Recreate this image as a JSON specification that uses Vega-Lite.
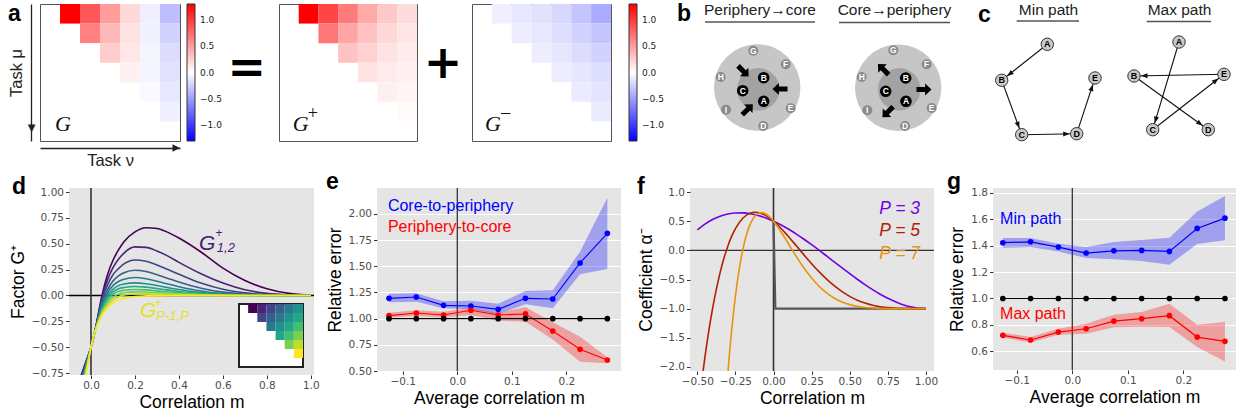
{
"$schema": "https://vega.github.io/schema/vega-lite/v6.json",
"padding": {"left": 7, "top": 1, "right": 0, "bottom": 0},
"config": {
 "view": {"stroke": null},
 "font": "Liberation Sans",
 "axis": {"labelFont": "DejaVu Sans", "labelFontSize": 10.5, "labelColor": "#4d4d4d", "labelOverlap": false, "tickColor": "#333333", "tickSize": 3.5, "labelPadding": 2, "domain": false, "gridColor": "#ffffff", "gridWidth": 1.2, "titleFont": "Liberation Sans", "titleFontSize": 17.5, "titleFontWeight": "normal", "titleColor": "#000000", "titlePadding": 4},
 "axisX": {"titlePadding": 2},
 "axisY": {"titlePadding": 4}
},
"datasets": {
 "G": [{"r":0,"c":1,"v":1.3},{"r":0,"c":2,"v":0.85},{"r":0,"c":3,"v":0.5},{"r":0,"c":4,"v":0.2},{"r":0,"c":5,"v":-0.08},{"r":0,"c":6,"v":-0.33},{"r":1,"c":2,"v":0.64},{"r":1,"c":3,"v":0.36},{"r":1,"c":4,"v":0.15},{"r":1,"c":5,"v":-0.07},{"r":1,"c":6,"v":-0.23},{"r":2,"c":3,"v":0.26},{"r":2,"c":4,"v":0.12},{"r":2,"c":5,"v":-0.05},{"r":2,"c":6,"v":-0.18},{"r":3,"c":4,"v":0.07},{"r":3,"c":5,"v":-0.05},{"r":3,"c":6,"v":-0.15},{"r":4,"c":5,"v":-0.03},{"r":4,"c":6,"v":-0.12},{"r":5,"c":6,"v":-0.08}],
 "Gp": [{"r":0,"c":1,"v":1.3},{"r":0,"c":2,"v":0.95},{"r":0,"c":3,"v":0.68},{"r":0,"c":4,"v":0.44},{"r":0,"c":5,"v":0.28},{"r":0,"c":6,"v":0.18},{"r":1,"c":2,"v":0.7},{"r":1,"c":3,"v":0.46},{"r":1,"c":4,"v":0.31},{"r":1,"c":5,"v":0.2},{"r":1,"c":6,"v":0.13},{"r":2,"c":3,"v":0.31},{"r":2,"c":4,"v":0.23},{"r":2,"c":5,"v":0.15},{"r":2,"c":6,"v":0.1},{"r":3,"c":4,"v":0.15},{"r":3,"c":5,"v":0.1},{"r":3,"c":6,"v":0.07},{"r":4,"c":5,"v":0.075},{"r":4,"c":6,"v":0.05},{"r":5,"c":6,"v":0.02}],
 "Gm": [{"r":0,"c":1,"v":-0.08},{"r":0,"c":2,"v":-0.12},{"r":0,"c":3,"v":-0.15},{"r":0,"c":4,"v":-0.2},{"r":0,"c":5,"v":-0.3},{"r":0,"c":6,"v":-0.43},{"r":1,"c":2,"v":-0.09},{"r":1,"c":3,"v":-0.12},{"r":1,"c":4,"v":-0.17},{"r":1,"c":5,"v":-0.23},{"r":1,"c":6,"v":-0.3},{"r":2,"c":3,"v":-0.09},{"r":2,"c":4,"v":-0.13},{"r":2,"c":5,"v":-0.18},{"r":2,"c":6,"v":-0.23},{"r":3,"c":4,"v":-0.09},{"r":3,"c":5,"v":-0.13},{"r":3,"c":6,"v":-0.17},{"r":4,"c":5,"v":-0.1},{"r":4,"c":6,"v":-0.14},{"r":5,"c":6,"v":-0.1}],
 "inset": [{"r":0,"c":1,"s":1},{"r":0,"c":2,"s":2},{"r":0,"c":3,"s":3},{"r":0,"c":4,"s":4},{"r":0,"c":5,"s":5},{"r":0,"c":6,"s":6},{"r":1,"c":2,"s":3},{"r":1,"c":3,"s":4},{"r":1,"c":4,"s":5},{"r":1,"c":5,"s":6},{"r":1,"c":6,"s":7},{"r":2,"c":3,"s":5},{"r":2,"c":4,"s":6},{"r":2,"c":5,"s":7},{"r":2,"c":6,"s":8},{"r":3,"c":4,"s":7},{"r":3,"c":5,"s":8},{"r":3,"c":6,"s":9},{"r":4,"c":5,"s":9},{"r":4,"c":6,"s":10},{"r":5,"c":6,"s":11}],
 "dCurves": [
  {"m":-0.045,"c1":-0.775,"c2":-0.788,"c3":-0.804,"c4":-0.821,"c5":-0.841,"c6":-0.863,"c7":-0.888,"c8":-0.917,"c9":-0.95,"c10":-0.989,"c11":-1.036},
  {"m":-0.03,"c1":-0.683,"c2":-0.692,"c3":-0.703,"c4":-0.714,"c5":-0.727,"c6":-0.742,"c7":-0.759,"c8":-0.778,"c9":-0.8,"c10":-0.826,"c11":-0.857},
  {"m":-0.015,"c1":-0.592,"c2":-0.596,"c3":-0.601,"c4":-0.607,"c5":-0.614,"c6":-0.621,"c7":-0.629,"c8":-0.639,"c9":-0.65,"c10":-0.663,"c11":-0.679},
  {"m":0,"c1":-0.5,"c2":-0.5,"c3":-0.5,"c4":-0.5,"c5":-0.5,"c6":-0.5,"c7":-0.5,"c8":-0.5,"c9":-0.5,"c10":-0.5,"c11":-0.5},
  {"m":0.01,"c1":-0.42,"c2":-0.42,"c3":-0.42,"c4":-0.42,"c5":-0.42,"c6":-0.415,"c7":-0.415,"c8":-0.414,"c9":-0.413,"c10":-0.412,"c11":-0.412},
  {"m":0.025,"c1":-0.27,"c2":-0.275,"c3":-0.28,"c4":-0.285,"c5":-0.29,"c6":-0.295,"c7":-0.298,"c8":-0.3,"c9":-0.303,"c10":-0.306,"c11":-0.309},
  {"m":0.05,"c1":0.0,"c2":-0.02,"c3":-0.045,"c4":-0.07,"c5":-0.09,"c6":-0.11,"c7":-0.13,"c8":-0.145,"c9":-0.16,"c10":-0.175,"c11":-0.19},
  {"m":0.075,"c1":0.2,"c2":0.15,"c3":0.1,"c4":0.055,"c5":0.025,"c6":0.0,"c7":-0.025,"c8":-0.05,"c9":-0.072,"c10":-0.095,"c11":-0.118},
  {"m":0.1,"c1":0.34,"c2":0.27,"c3":0.2,"c4":0.14,"c5":0.095,"c6":0.06,"c7":0.035,"c8":0.012,"c9":-0.015,"c10":-0.045,"c11":-0.073},
  {"m":0.125,"c1":0.44,"c2":0.35,"c3":0.26,"c4":0.19,"c5":0.135,"c6":0.095,"c7":0.064,"c8":0.04,"c9":0.015,"c10":-0.012,"c11":-0.045},
  {"m":0.15,"c1":0.52,"c2":0.41,"c3":0.305,"c4":0.22,"c5":0.157,"c6":0.11,"c7":0.077,"c8":0.05,"c9":0.027,"c10":0.004,"c11":-0.028},
  {"m":0.2,"c1":0.615,"c2":0.47,"c3":0.343,"c4":0.244,"c5":0.173,"c6":0.122,"c7":0.087,"c8":0.058,"c9":0.035,"c10":0.014,"c11":-0.01},
  {"m":0.25,"c1":0.655,"c2":0.465,"c3":0.33,"c4":0.232,"c5":0.162,"c6":0.114,"c7":0.081,"c8":0.054,"c9":0.033,"c10":0.015,"c11":-0.004},
  {"m":0.3,"c1":0.648,"c2":0.43,"c3":0.295,"c4":0.2,"c5":0.138,"c6":0.096,"c7":0.067,"c8":0.044,"c9":0.027,"c10":0.012,"c11":-0.0015},
  {"m":0.35,"c1":0.61,"c2":0.38,"c3":0.25,"c4":0.165,"c5":0.11,"c6":0.076,"c7":0.052,"c8":0.034,"c9":0.02,"c10":0.009,"c11":0},
  {"m":0.4,"c1":0.555,"c2":0.32,"c3":0.205,"c4":0.13,"c5":0.085,"c6":0.057,"c7":0.039,"c8":0.025,"c9":0.015,"c10":0.007,"c11":0},
  {"m":0.5,"c1":0.42,"c2":0.21,"c3":0.12,"c4":0.07,"c5":0.043,"c6":0.028,"c7":0.018,"c8":0.011,"c9":0.006,"c10":0.003,"c11":0},
  {"m":0.6,"c1":0.265,"c2":0.12,"c3":0.06,"c4":0.032,"c5":0.018,"c6":0.011,"c7":0.007,"c8":0.004,"c9":0.002,"c10":0.001,"c11":0},
  {"m":0.7,"c1":0.145,"c2":0.055,"c3":0.025,"c4":0.012,"c5":0.006,"c6":0.004,"c7":0.002,"c8":0.001,"c9":0,"c10":0,"c11":0},
  {"m":0.8,"c1":0.065,"c2":0.02,"c3":0.008,"c4":0.004,"c5":0.002,"c6":0.001,"c7":0,"c8":0,"c9":0,"c10":0,"c11":0},
  {"m":0.9,"c1":0.02,"c2":0.005,"c3":0.002,"c4":0.001,"c5":0,"c6":0,"c7":0,"c8":0,"c9":0,"c10":0,"c11":0},
  {"m":1.0,"c1":0.002,"c2":0,"c3":0,"c4":0,"c5":0,"c6":0,"c7":0,"c8":0,"c9":0,"c10":0,"c11":0}
 ],
 "e": [
  {"x":-0.125,"s":"c2p","y":1.194,"lo":1.156,"hi":1.239},{"x":-0.075,"s":"c2p","y":1.207,"lo":1.162,"hi":1.242},{"x":-0.025,"s":"c2p","y":1.127,"lo":1.099,"hi":1.166},{"x":0.025,"s":"c2p","y":1.121,"lo":1.089,"hi":1.172},{"x":0.075,"s":"c2p","y":1.089,"lo":1.041,"hi":1.143},{"x":0.125,"s":"c2p","y":1.194,"lo":1.137,"hi":1.264},{"x":0.175,"s":"c2p","y":1.188,"lo":1.099,"hi":1.271},{"x":0.225,"s":"c2p","y":1.532,"lo":1.424,"hi":1.64},{"x":0.275,"s":"c2p","y":1.815,"lo":1.475,"hi":2.156},
  {"x":-0.125,"s":"p2c","y":1.029,"lo":1.01,"hi":1.057},{"x":-0.075,"s":"p2c","y":1.054,"lo":1.025,"hi":1.08},{"x":-0.025,"s":"p2c","y":1.035,"lo":1.01,"hi":1.067},{"x":0.025,"s":"p2c","y":1.08,"lo":1.035,"hi":1.105},{"x":0.075,"s":"p2c","y":1.035,"lo":0.981,"hi":1.051},{"x":0.125,"s":"p2c","y":1.045,"lo":0.971,"hi":1.111},{"x":0.175,"s":"p2c","y":0.882,"lo":0.8,"hi":0.965},{"x":0.225,"s":"p2c","y":0.707,"lo":0.589,"hi":0.828},{"x":0.275,"s":"p2c","y":0.605,"lo":0.573,"hi":0.631},
  {"x":-0.125,"s":"base","y":1.0},{"x":-0.075,"s":"base","y":1.0},{"x":-0.025,"s":"base","y":1.0},{"x":0.025,"s":"base","y":1.0},{"x":0.075,"s":"base","y":1.0},{"x":0.125,"s":"base","y":1.0},{"x":0.175,"s":"base","y":1.0},{"x":0.225,"s":"base","y":1.0},{"x":0.275,"s":"base","y":1.0}
 ],
 "g": [
  {"x":-0.125,"s":"min","y":1.422,"lo":1.384,"hi":1.457},{"x":-0.075,"s":"min","y":1.429,"lo":1.389,"hi":1.457},{"x":-0.025,"s":"min","y":1.389,"lo":1.356,"hi":1.414},{"x":0.025,"s":"min","y":1.344,"lo":1.306,"hi":1.389},{"x":0.075,"s":"min","y":1.361,"lo":1.296,"hi":1.427},{"x":0.125,"s":"min","y":1.364,"lo":1.283,"hi":1.442},{"x":0.175,"s":"min","y":1.356,"lo":1.256,"hi":1.46},{"x":0.225,"s":"min","y":1.53,"lo":1.412,"hi":1.659},{"x":0.275,"s":"min","y":1.608,"lo":1.44,"hi":1.775},
  {"x":-0.125,"s":"max","y":0.721,"lo":0.703,"hi":0.741},{"x":-0.075,"s":"max","y":0.686,"lo":0.668,"hi":0.708},{"x":-0.025,"s":"max","y":0.746,"lo":0.726,"hi":0.771},{"x":0.025,"s":"max","y":0.771,"lo":0.734,"hi":0.809},{"x":0.075,"s":"max","y":0.829,"lo":0.782,"hi":0.877},{"x":0.125,"s":"max","y":0.847,"lo":0.787,"hi":0.898},{"x":0.175,"s":"max","y":0.87,"lo":0.784,"hi":0.961},{"x":0.225,"s":"max","y":0.708,"lo":0.633,"hi":0.802},{"x":0.275,"s":"max","y":0.676,"lo":0.524,"hi":0.822},
  {"x":-0.125,"s":"base","y":1.0},{"x":-0.075,"s":"base","y":1.0},{"x":-0.025,"s":"base","y":1.0},{"x":0.025,"s":"base","y":1.0},{"x":0.075,"s":"base","y":1.0},{"x":0.125,"s":"base","y":1.0},{"x":0.175,"s":"base","y":1.0},{"x":0.225,"s":"base","y":1.0},{"x":0.275,"s":"base","y":1.0}
 ],
 "fCurves": [
  {"m":-0.5,"p3":0.35},{"m":-0.47,"p5":-2.226},{"m":-0.45,"p3":0.451,"p5":-1.829},{"m":-0.44,"p5":-1.645},{"m":-0.425,"p5":-1.387},{"m":-0.4,"p3":0.529,"p5":-1.0},{"m":-0.375,"p5":-0.665},{"m":-0.35,"p3":0.586,"p5":-0.377},{"m":-0.325,"p5":-0.133},{"m":-0.3,"p3":0.622,"p5":0.071,"p7":-2.122},{"m":-0.29,"p7":-1.805},{"m":-0.275,"p5":0.239,"p7":-1.379},{"m":-0.26,"p7":-1.006},{"m":-0.25,"p3":0.641,"p5":0.373,"p7":-0.785},{"m":-0.225,"p7":-0.322},{"m":-0.2,"p3":0.642,"p5":0.555,"p7":0.03},{"m":-0.175,"p7":0.288},{"m":-0.15,"p3":0.627,"p5":0.64,"p7":0.466},{"m":-0.125,"p5":0.652,"p7":0.578},{"m":-0.1,"p3":0.597,"p5":0.647,"p7":0.634},{"m":-0.075,"p5":0.628,"p7":0.646},{"m":-0.05,"p3":0.555,"p5":0.595,"p7":0.623},{"m":-0.025,"p5":0.552,"p7":0.572},{"m":0,"p3":0.5,"p5":0.5,"p7":0.5},{"m":0.025,"p5":0.44,"p7":0.413},{"m":0.05,"p3":0.435,"p5":0.374,"p7":0.315},{"m":0.075,"p5":0.304,"p7":0.211},{"m":0.1,"p3":0.361,"p5":0.23,"p7":0.104},{"m":0.15,"p3":0.279,"p5":0.077,"p7":-0.108},{"m":0.2,"p3":0.19,"p5":-0.078,"p7":-0.304},{"m":0.25,"p3":0.097,"p5":-0.229,"p7":-0.476},{"m":0.3,"p3":0.0,"p5":-0.37,"p7":-0.62},{"m":0.35,"p3":-0.1,"p5":-0.498,"p7":-0.734},{"m":0.4,"p3":-0.201,"p5":-0.611,"p7":-0.822},{"m":0.45,"p3":-0.301,"p5":-0.708,"p7":-0.887},{"m":0.5,"p3":-0.4,"p5":-0.789,"p7":-0.931},{"m":0.55,"p3":-0.496,"p5":-0.854,"p7":-0.961},{"m":0.6,"p3":-0.587,"p5":-0.904,"p7":-0.98},{"m":0.65,"p3":-0.673,"p5":-0.941,"p7":-0.99},{"m":0.7,"p3":-0.752,"p5":-0.967,"p7":-0.996},{"m":0.75,"p3":-0.822,"p5":-0.983,"p7":-0.999},{"m":0.8,"p3":-0.882,"p5":-0.993,"p7":-1.0},{"m":0.85,"p3":-0.932,"p5":-0.998,"p7":-1.0},{"m":0.9,"p3":-0.969,"p5":-1.0,"p7":-1.0},{"m":0.95,"p3":-0.992,"p5":-1.0,"p7":-1.0},{"m":1.0,"p3":-1.0,"p5":-1.0,"p7":-1.0}
 ],
 "fStep": [{"m":0,"a":0.5},{"m":0.012,"a":-1.0},{"m":1.0,"a":-1.0}],
 "bRings": [{"x":80.2,"y":83.5,"ring":"outer"},{"x":81.3,"y":85.3,"ring":"inner"},{"x":221.2,"y":83.8,"ring":"outer"},{"x":222.2,"y":85.3,"ring":"inner"}],
 "bNodes": [{"x":76.3,"y":46.7,"id":"G","kind":"p"},{"x":108.7,"y":60.3,"id":"F","kind":"p"},{"x":43.7,"y":73,"id":"H","kind":"p"},{"x":113.7,"y":104.3,"id":"E","kind":"p"},{"x":49,"y":105.7,"id":"I","kind":"p"},{"x":86.3,"y":122,"id":"D","kind":"p"},{"x":86.7,"y":73.7,"id":"B","kind":"c"},{"x":65.7,"y":86.7,"id":"C","kind":"c"},{"x":86.7,"y":97.3,"id":"A","kind":"c"},{"x":216.3,"y":46.3,"id":"G","kind":"p"},{"x":249.7,"y":60.3,"id":"F","kind":"p"},{"x":184.7,"y":73,"id":"H","kind":"p"},{"x":254.7,"y":104,"id":"E","kind":"p"},{"x":190.3,"y":106.3,"id":"I","kind":"p"},{"x":228,"y":122,"id":"D","kind":"p"},{"x":228.7,"y":74,"id":"B","kind":"c"},{"x":208.7,"y":87.3,"id":"C","kind":"c"},{"x":229,"y":97.3,"id":"A","kind":"c"}],
 "bArrows": [{"x":66.3,"y":67.2,"a":135},{"x":103,"y":85,"a":270},{"x":70.5,"y":105.5,"a":45},{"x":206.3,"y":65.3,"a":315},{"x":247,"y":85.5,"a":90},{"x":210.8,"y":108,"a":225}],
 "cNodes": [{"key":"minA","id":"A","x":69.3,"y":40.3},{"key":"minB","id":"B","x":23.7,"y":76.3},{"key":"minC","id":"C","x":43.7,"y":130.7},{"key":"minD","id":"D","x":98.7,"y":129.7},{"key":"minE","id":"E","x":117,"y":74},{"key":"maxA","id":"A","x":201,"y":38},{"key":"maxB","id":"B","x":156,"y":72},{"key":"maxE","id":"E","x":246,"y":70.3},{"key":"maxC","id":"C","x":174.7,"y":125.7},{"key":"maxD","id":"D","x":230.3,"y":125.7}],
 "cEdges": [{"src":"minA","dst":"minB","a":51.7},{"src":"minB","dst":"minC","a":339.8},{"src":"minC","dst":"minD","a":269},{"src":"minD","dst":"minE","a":198.2},{"src":"maxA","dst":"maxC","a":16.7},{"src":"maxC","dst":"maxE","a":232.2},{"src":"maxE","dst":"maxB","a":88.9},{"src":"maxB","dst":"maxD","a":305.9}]
},
"bounds": "flush",
"spacing": 184,
"resolve": {"scale": {"color": "independent", "size": "independent"}, "legend": {"color": "independent"}},
"vconcat": [
{
"bounds": "flush",
"spacing": 0,
"resolve": {"scale": {"color": "independent", "size": "independent"}, "legend": {"color": "independent"}},
"hconcat": [
 {
  "width": 140, "height": 137,
  "view": {"stroke": "#555555", "strokeWidth": 1},
  "layer": [
   {"data": {"name": "G"}, "mark": {"type": "rect"},
    "encoding": {
     "x": {"field": "c", "type": "ordinal", "scale": {"domain": [0,1,2,3,4,5,6], "paddingInner": 0, "paddingOuter": 0},
      "axis": {"title": "Task ν", "orient": "bottom", "offset": 7, "domain": true, "domainColor": "#222222", "domainWidth": 1.3, "ticks": false, "labels": false, "grid": false, "titleFontSize": 16.5, "titlePadding": 4, "titleColor": "#222222"}},
     "y": {"field": "r", "type": "ordinal", "scale": {"domain": [0,1,2,3,4,5,6], "paddingInner": 0, "paddingOuter": 0},
      "axis": {"title": "Task μ", "orient": "left", "offset": 9, "domain": true, "domainColor": "#222222", "domainWidth": 1.3, "ticks": false, "tickSize": 0, "grid": false, "bandPosition": 1, "labelExpr": "datum.value == 6 ? '▼' : ''", "labelAlign": "center", "labelBaseline": "alphabetic", "labelPadding": 0, "labelAngle": 0, "labelFont": "DejaVu Sans", "labelFontSize": 10, "labelColor": "#222222", "labelOverlap": false, "labelBound": false, "titleFontSize": 16.5, "titlePadding": 3, "titleColor": "#222222"}},
     "color": {"field": "v", "type": "quantitative", "scale": {"domain": [-1.3, 0, 1.3], "range": ["#0000ff", "#ffffff", "#ff0000"], "interpolate": "rgb"},
      "legend": {"orient": "none", "legendX": 147, "legendY": 0, "direction": "vertical", "gradientLength": 137, "gradientThickness": 8, "title": null, "values": [-1, -0.5, 0, 0.5, 1], "format": ".1f", "labelFont": "DejaVu Sans", "labelFontSize": 9, "labelColor": "#222222", "labelOffset": 5, "gradientStrokeColor": "#333333", "gradientStrokeWidth": 1, "padding": 0}}
    }},
   {"data": {"values": [{}]}, "mark": {"type": "point", "shape": "M0,0.7L-0.75,0.33L-0.75,1.07Z", "filled": true, "color": "#222222", "opacity": 1, "size": 400, "strokeWidth": 0},
    "encoding": {"x": {"datum": 6, "type": "ordinal", "bandPosition": 1}, "y": {"datum": 6, "type": "ordinal", "bandPosition": 1}}},
   {"data": {"values": [{}]}, "mark": {"type": "text", "text": "G", "font": "Liberation Serif", "fontStyle": "italic", "fontSize": 22, "align": "left", "baseline": "alphabetic", "dx": 5, "dy": 0, "color": "#111111"},
    "encoding": {"x": {"datum": 0, "type": "ordinal"}, "y": {"datum": 6, "type": "ordinal"}}},
   {"data": {"values": [{}]}, "mark": {"type": "text", "text": "a", "fontWeight": "bold", "fontSize": 23, "align": "left", "baseline": "alphabetic", "dx": -42, "dy": 7, "color": "#000000"},
    "encoding": {"x": {"datum": 0, "type": "ordinal"}, "y": {"datum": 0, "type": "ordinal"}}}
  ]
 },
 {"width": 99, "height": 1, "data": {"values": [{}]}, "mark": {"type": "point", "opacity": 0}, "encoding": {}},
 {
  "width": 138, "height": 137,
  "view": {"stroke": "#555555", "strokeWidth": 1},
  "layer": [
   {"data": {"name": "Gp"}, "mark": {"type": "rect"},
    "encoding": {
     "x": {"field": "c", "type": "ordinal", "scale": {"domain": [0,1,2,3,4,5,6], "paddingInner": 0, "paddingOuter": 0}, "axis": null},
     "y": {"field": "r", "type": "ordinal", "scale": {"domain": [0,1,2,3,4,5,6], "paddingInner": 0, "paddingOuter": 0}, "axis": null},
     "color": {"field": "v", "type": "quantitative", "scale": {"domain": [-1.3, 0, 1.3], "range": ["#0000ff", "#ffffff", "#ff0000"], "interpolate": "rgb"}, "legend": null}
    }},
   {"data": {"values": [{}]}, "mark": {"type": "text", "text": "G", "font": "Liberation Serif", "fontStyle": "italic", "fontSize": 22, "align": "left", "baseline": "alphabetic", "dx": 4, "dy": 0, "color": "#111111"},
    "encoding": {"x": {"datum": 0, "type": "ordinal"}, "y": {"datum": 6, "type": "ordinal"}}},
   {"data": {"values": [{}]}, "mark": {"type": "text", "text": "+", "font": "Liberation Serif", "fontSize": 18, "align": "left", "baseline": "alphabetic", "dx": 19, "dy": -12, "color": "#111111"},
    "encoding": {"x": {"datum": 0, "type": "ordinal"}, "y": {"datum": 6, "type": "ordinal"}}},
   {"data": {"values": [{}]}, "mark": {"type": "text", "text": "=", "font": "DejaVu Sans", "fontWeight": "bold", "fontSize": 46, "align": "center", "baseline": "middle", "dx": -42, "dy": -4, "color": "#000000"},
    "encoding": {"x": {"datum": 0, "type": "ordinal"}, "y": {"datum": 3, "type": "ordinal"}}}
  ]
 },
 {"width": 55, "height": 1, "data": {"values": [{}]}, "mark": {"type": "point", "opacity": 0}, "encoding": {}},
 {
  "width": 139, "height": 137,
  "view": {"stroke": "#555555", "strokeWidth": 1},
  "layer": [
   {"data": {"name": "Gm"}, "mark": {"type": "rect"},
    "encoding": {
     "x": {"field": "c", "type": "ordinal", "scale": {"domain": [0,1,2,3,4,5,6], "paddingInner": 0, "paddingOuter": 0}, "axis": null},
     "y": {"field": "r", "type": "ordinal", "scale": {"domain": [0,1,2,3,4,5,6], "paddingInner": 0, "paddingOuter": 0}, "axis": null},
     "color": {"field": "v", "type": "quantitative", "scale": {"domain": [-1.3, 0, 1.3], "range": ["#0000ff", "#ffffff", "#ff0000"], "interpolate": "rgb"},
      "legend": {"orient": "none", "legendX": 157, "legendY": 0, "direction": "vertical", "gradientLength": 137, "gradientThickness": 8, "title": null, "values": [-1, -0.5, 0, 0.5, 1], "format": ".1f", "labelFont": "DejaVu Sans", "labelFontSize": 9, "labelColor": "#222222", "labelOffset": 5, "gradientStrokeColor": "#333333", "gradientStrokeWidth": 1, "padding": 0}}
    }},
   {"data": {"values": [{}]}, "mark": {"type": "text", "text": "G", "font": "Liberation Serif", "fontStyle": "italic", "fontSize": 22, "align": "left", "baseline": "alphabetic", "dx": 3, "dy": 0, "color": "#111111"},
    "encoding": {"x": {"datum": 0, "type": "ordinal"}, "y": {"datum": 6, "type": "ordinal"}}},
   {"data": {"values": [{}]}, "mark": {"type": "text", "text": "−", "font": "Liberation Serif", "fontSize": 20, "align": "left", "baseline": "alphabetic", "dx": 18, "dy": -11, "color": "#111111"},
    "encoding": {"x": {"datum": 0, "type": "ordinal"}, "y": {"datum": 6, "type": "ordinal"}}},
   {"data": {"values": [{}]}, "mark": {"type": "text", "text": "+", "font": "DejaVu Sans", "fontWeight": "bold", "fontSize": 46, "align": "center", "baseline": "middle", "dx": -39, "dy": -9, "color": "#000000"},
    "encoding": {"x": {"datum": 0, "type": "ordinal"}, "y": {"datum": 3, "type": "ordinal"}}}
  ]
 },
 {"width": 66, "height": 1, "data": {"values": [{}]}, "mark": {"type": "point", "opacity": 0}, "encoding": {}},
 {
  "width": 293, "height": 137,
  "layer": [
   {"data": {"name": "bRings"}, "transform": [{"filter": "datum.ring == 'outer'"}], "mark": {"type": "point", "shape": "circle", "filled": true, "color": "#c6c6c6", "opacity": 1, "size": 7480, "strokeWidth": 0},
    "encoding": {"x": {"field": "x", "type": "quantitative", "scale": {"domain": [0, 293], "nice": false, "zero": false}, "axis": null},
                 "y": {"field": "y", "type": "quantitative", "scale": {"domain": [0, 137], "nice": false, "zero": false, "reverse": true}, "axis": null}}},
   {"data": {"name": "bRings"}, "transform": [{"filter": "datum.ring == 'inner'"}], "mark": {"type": "point", "shape": "circle", "filled": true, "color": "#a2a2a2", "opacity": 1, "size": 1810, "strokeWidth": 0},
    "encoding": {"x": {"field": "x", "type": "quantitative"}, "y": {"field": "y", "type": "quantitative"}}},
   {"data": {"name": "bNodes"}, "transform": [{"filter": "datum.kind == 'p'"}], "mark": {"type": "point", "shape": "circle", "filled": true, "color": "#8a8a8a", "opacity": 1, "size": 100, "strokeWidth": 0},
    "encoding": {"x": {"field": "x", "type": "quantitative"}, "y": {"field": "y", "type": "quantitative"}}},
   {"data": {"name": "bNodes"}, "transform": [{"filter": "datum.kind == 'c'"}], "mark": {"type": "point", "shape": "circle", "filled": true, "color": "#000000", "opacity": 1, "size": 135, "strokeWidth": 0},
    "encoding": {"x": {"field": "x", "type": "quantitative"}, "y": {"field": "y", "type": "quantitative"}}},
   {"data": {"name": "bNodes"}, "mark": {"type": "text", "fontWeight": "bold", "fontSize": 8.5, "align": "center", "baseline": "middle", "color": "#ffffff"},
    "encoding": {"x": {"field": "x", "type": "quantitative"}, "y": {"field": "y", "type": "quantitative"}, "text": {"field": "id"}}},
   {"data": {"name": "bArrows"}, "mark": {"type": "point", "shape": "M0,-1L0.8,-0.15L0.34,-0.15L0.34,1L-0.34,1L-0.34,-0.15L-0.8,-0.15Z", "filled": true, "color": "#000000", "opacity": 1, "size": 225, "strokeWidth": 0},
    "encoding": {"x": {"field": "x", "type": "quantitative"}, "y": {"field": "y", "type": "quantitative"}, "angle": {"field": "a", "type": "quantitative", "scale": null}}},
   {"data": {"values": [{}]}, "mark": {"type": "text", "text": "Periphery→core", "fontSize": 15.5, "align": "center", "baseline": "alphabetic", "color": "#222222"},
    "encoding": {"x": {"datum": 83}, "y": {"datum": 11}}},
   {"data": {"values": [{}]}, "mark": {"type": "text", "text": "Core→periphery", "fontSize": 15.5, "align": "center", "baseline": "alphabetic", "color": "#222222"},
    "encoding": {"x": {"datum": 217.5}, "y": {"datum": 11}}},
   {"data": {"values": [{}]}, "mark": {"type": "rule", "color": "#555555", "strokeWidth": 1.5},
    "encoding": {"x": {"datum": 28}, "x2": {"datum": 138}, "y": {"datum": 18}}},
   {"data": {"values": [{}]}, "mark": {"type": "rule", "color": "#555555", "strokeWidth": 1.5},
    "encoding": {"x": {"datum": 162}, "x2": {"datum": 273}, "y": {"datum": 18.5}}},
   {"data": {"values": [{}]}, "mark": {"type": "text", "text": "b", "fontWeight": "bold", "fontSize": 23, "align": "left", "baseline": "alphabetic", "color": "#000000"},
    "encoding": {"x": {"datum": 0}, "y": {"datum": 17}}}
  ]
 },
 {"width": 8, "height": 1, "data": {"values": [{}]}, "mark": {"type": "point", "opacity": 0}, "encoding": {}},
 {
  "width": 261, "height": 137,
  "layer": [
   {"data": {"name": "cEdges"},
    "transform": [
     {"lookup": "src", "from": {"data": {"name": "cNodes"}, "key": "key", "fields": ["x", "y"]}, "as": ["sx", "sy"]},
     {"lookup": "dst", "from": {"data": {"name": "cNodes"}, "key": "key", "fields": ["x", "y"]}, "as": ["tx", "ty"]}
    ],
    "mark": {"type": "rule", "color": "#111111", "strokeWidth": 1.1},
    "encoding": {"x": {"field": "sx", "type": "quantitative", "scale": {"domain": [0, 261], "nice": false, "zero": false}, "axis": null},
                 "y": {"field": "sy", "type": "quantitative", "scale": {"domain": [0, 137], "nice": false, "zero": false, "reverse": true}, "axis": null},
                 "x2": {"field": "tx"}, "y2": {"field": "ty"}}},
   {"data": {"name": "cNodes"}, "mark": {"type": "point", "shape": "circle", "filled": true, "fill": "#c8c8c8", "stroke": "#333333", "strokeWidth": 1, "opacity": 1, "size": 154},
    "encoding": {"x": {"field": "x", "type": "quantitative"}, "y": {"field": "y", "type": "quantitative"}}},
   {"data": {"name": "cEdges"},
    "transform": [
     {"lookup": "dst", "from": {"data": {"name": "cNodes"}, "key": "key", "fields": ["x", "y"]}, "as": ["tx", "ty"]}
    ],
    "mark": {"type": "point", "shape": "M0,-0.47L0.17,-0.9L-0.17,-0.9Z", "filled": true, "color": "#111111", "opacity": 1, "size": 900, "strokeWidth": 0},
    "encoding": {"x": {"field": "tx", "type": "quantitative"}, "y": {"field": "ty", "type": "quantitative"}, "angle": {"field": "a", "type": "quantitative", "scale": null}}},
   {"data": {"name": "cNodes"}, "mark": {"type": "text", "fontWeight": "bold", "fontSize": 9, "align": "center", "baseline": "middle", "color": "#000000"},
    "encoding": {"x": {"field": "x", "type": "quantitative"}, "y": {"field": "y", "type": "quantitative"}, "text": {"field": "id"}}},
   {"data": {"values": [{}]}, "mark": {"type": "text", "text": "Min path", "fontSize": 15.5, "align": "center", "baseline": "alphabetic", "color": "#222222"},
    "encoding": {"x": {"datum": 70.5}, "y": {"datum": 10.5}}},
   {"data": {"values": [{}]}, "mark": {"type": "text", "text": "Max path", "fontSize": 15.5, "align": "center", "baseline": "alphabetic", "color": "#222222"},
    "encoding": {"x": {"datum": 201.5}, "y": {"datum": 10.5}}},
   {"data": {"values": [{}]}, "mark": {"type": "rule", "color": "#555555", "strokeWidth": 1.5},
    "encoding": {"x": {"datum": 38.7}, "x2": {"datum": 101}, "y": {"datum": 17}}},
   {"data": {"values": [{}]}, "mark": {"type": "rule", "color": "#555555", "strokeWidth": 1.5},
    "encoding": {"x": {"datum": 168.7}, "x2": {"datum": 233}, "y": {"datum": 17.5}}},
   {"data": {"values": [{}]}, "mark": {"type": "text", "text": "c", "fontWeight": "bold", "fontSize": 23, "align": "left", "baseline": "alphabetic", "color": "#000000"},
    "encoding": {"x": {"datum": 0}, "y": {"datum": 18}}}
  ]
 }
]
},
{
"bounds": "flush",
"spacing": 0,
"resolve": {"scale": {"color": "independent", "size": "independent"}, "legend": {"color": "independent"}},
"hconcat": [
 {"width": 29, "height": 1, "data": {"values": [{}]}, "mark": {"type": "point", "opacity": 0}, "encoding": {}},
 {
  "width": 245, "height": 187,
  "view": {"fill": "#e5e5e5", "stroke": null},
  "resolve": {"scale": {"x": "independent", "y": "independent", "color": "independent"}},
  "layer": [
   {"layer": [
     {"data": {"values": [{}]}, "mark": {"type": "rule", "color": "#000000", "strokeWidth": 1.4}, "encoding": {"y": {"datum": 0, "type": "quantitative"}}},
     {"data": {"values": [{}]}, "mark": {"type": "rule", "color": "#333333", "strokeWidth": 1.6}, "encoding": {"x": {"datum": 0, "type": "quantitative"}}},
     {"data": {"name": "dCurves"}, "transform": [{"fold": ["c1","c2","c3","c4","c5","c6","c7","c8","c9","c10","c11"], "as": ["curve", "gv"]}],
      "mark": {"type": "line", "interpolate": "monotone", "strokeWidth": 1.6, "clip": true},
      "encoding": {
       "x": {"field": "m", "type": "quantitative", "scale": {"domain": [-0.1, 1.014], "nice": false, "zero": false}, "axis": {"values": [0, 0.2, 0.4, 0.6, 0.8, 1.0], "tickCount": 30, "format": ".1f", "title": "Correlation m", "labelOverlap": false}},
       "y": {"field": "gv", "type": "quantitative", "scale": {"domain": [-0.769, 1.039], "nice": false, "zero": false}, "axis": {"values": [-0.75, -0.5, -0.25, 0, 0.25, 0.5, 0.75, 1.0], "tickCount": 30, "format": ".2f", "title": "Factor G⁺", "labelOverlap": false}},
       "color": {"field": "curve", "type": "nominal", "scale": {"domain": ["c1","c2","c3","c4","c5","c6","c7","c8","c9","c10","c11"], "range": ["#440154","#482475","#414487","#355f8d","#2a788e","#21918c","#22a884","#44bf70","#7ad151","#bddf26","#fde725"]}, "legend": null}
      }},
     {"data": {"values": [{}]}, "mark": {"type": "text", "text": "G", "fontStyle": "italic", "fontSize": 21, "align": "left", "baseline": "alphabetic", "color": "#4a1a6e"}, "encoding": {"x": {"datum": 0.491}, "y": {"datum": 0.44}}},
     {"data": {"values": [{}]}, "mark": {"type": "text", "text": "+", "fontSize": 12, "align": "left", "baseline": "alphabetic", "color": "#4a1a6e"}, "encoding": {"x": {"datum": 0.566}, "y": {"datum": 0.565}}},
     {"data": {"values": [{}]}, "mark": {"type": "text", "text": "1,2", "fontStyle": "italic", "fontSize": 13, "align": "left", "baseline": "alphabetic", "color": "#4a1a6e"}, "encoding": {"x": {"datum": 0.572}, "y": {"datum": 0.42}}},
     {"data": {"values": [{}]}, "mark": {"type": "text", "text": "G", "fontStyle": "italic", "fontSize": 21, "align": "left", "baseline": "alphabetic", "color": "#e2e21c"}, "encoding": {"x": {"datum": 0.223}, "y": {"datum": -0.208}}},
     {"data": {"values": [{}]}, "mark": {"type": "text", "text": "+", "fontSize": 12, "align": "left", "baseline": "alphabetic", "color": "#e2e21c"}, "encoding": {"x": {"datum": 0.29}, "y": {"datum": -0.11}}},
     {"data": {"values": [{}]}, "mark": {"type": "text", "text": "P-1,P", "fontStyle": "italic", "fontSize": 13, "align": "left", "baseline": "alphabetic", "color": "#e2e21c"}, "encoding": {"x": {"datum": 0.297}, "y": {"datum": -0.237}}},
     {"data": {"values": [{}]}, "mark": {"type": "text", "text": "d", "fontWeight": "bold", "fontSize": 23, "align": "left", "baseline": "alphabetic", "color": "#000000"}, "encoding": {"x": {"datum": -0.359}, "y": {"datum": 0.981}}}
   ]},
   {"data": {"values": [{}]}, "mark": {"type": "rect", "fill": "#ffffff", "stroke": "#222222", "strokeWidth": 2},
    "encoding": {"x": {"datum": 0, "type": "quantitative", "scale": {"domain": [0, 1], "range": [170, 234]}, "axis": null}, "x2": {"datum": 1},
                 "y": {"datum": 0, "type": "quantitative", "scale": {"domain": [0, 1], "range": [116, 179]}, "axis": null}, "y2": {"datum": 1}}},
   {"data": {"name": "inset"}, "mark": {"type": "rect"},
    "encoding": {"x": {"field": "c", "type": "ordinal", "scale": {"domain": [0,1,2,3,4,5,6], "range": [170, 234], "paddingInner": 0, "paddingOuter": 0}, "axis": null},
                 "y": {"field": "r", "type": "ordinal", "scale": {"domain": [0,1,2,3,4,5,6], "range": [116, 179], "paddingInner": 0, "paddingOuter": 0}, "axis": null},
                 "color": {"field": "s", "type": "quantitative", "scale": {"scheme": "viridis", "domain": [1, 11]}, "legend": null}}}
  ]
 },
 {"width": 63, "height": 1, "data": {"values": [{}]}, "mark": {"type": "point", "opacity": 0}, "encoding": {}},
 {
  "width": 244, "height": 183,
  "view": {"fill": "#e5e5e5", "stroke": null},
  "layer": [
   {"data": {"values": [{}]}, "mark": {"type": "rule", "color": "#000000", "strokeWidth": 1}, "encoding": {"x": {"datum": 0, "type": "quantitative"}}},
   {"data": {"name": "e"}, "transform": [{"filter": "datum.s != 'base'"}], "mark": {"type": "area", "opacity": 0.3},
    "encoding": {
     "x": {"field": "x", "type": "quantitative", "scale": {"domain": [-0.147, 0.3], "nice": false, "zero": false}, "axis": {"values": [-0.1, 0, 0.1, 0.2], "tickCount": 30, "format": ".1f", "title": "Average correlation m", "labelOverlap": false}},
     "y": {"field": "lo", "type": "quantitative", "scale": {"domain": [0.5, 2.248], "nice": false, "zero": false}, "axis": {"values": [0.5, 0.75, 1.0, 1.25, 1.5, 1.75, 2.0], "tickCount": 30, "format": ".2f", "title": "Relative error", "labelOverlap": false}},
     "y2": {"field": "hi"},
     "color": {"field": "s", "type": "nominal", "scale": {"domain": ["c2p", "p2c", "base"], "range": ["#0000ff", "#ff0000", "#000000"]}, "legend": null}
    }},
   {"data": {"name": "e"}, "mark": {"type": "line", "strokeWidth": 1.1},
    "encoding": {"x": {"field": "x", "type": "quantitative"}, "y": {"field": "y", "type": "quantitative"}, "color": {"field": "s", "type": "nominal", "legend": null}}},
   {"data": {"name": "e"}, "mark": {"type": "point", "filled": true, "size": 32, "opacity": 1},
    "encoding": {"x": {"field": "x", "type": "quantitative"}, "y": {"field": "y", "type": "quantitative"}, "color": {"field": "s", "type": "nominal", "legend": null}}},
   {"data": {"values": [{}]}, "mark": {"type": "text", "text": "Core-to-periphery", "fontSize": 16, "align": "left", "baseline": "alphabetic", "color": "#0000ff"}, "encoding": {"x": {"datum": -0.127}, "y": {"datum": 2.03}}},
   {"data": {"values": [{}]}, "mark": {"type": "text", "text": "Periphery-to-core", "fontSize": 16, "align": "left", "baseline": "alphabetic", "color": "#ff0000"}, "encoding": {"x": {"datum": -0.127}, "y": {"datum": 1.83}}},
   {"data": {"values": [{}]}, "mark": {"type": "text", "text": "e", "fontWeight": "bold", "fontSize": 23, "align": "left", "baseline": "alphabetic", "color": "#000000"}, "encoding": {"x": {"datum": -0.2406}, "y": {"datum": 2.239}}}
  ]
 },
 {"width": 69, "height": 1, "data": {"values": [{}]}, "mark": {"type": "point", "opacity": 0}, "encoding": {}},
 {
  "width": 244, "height": 183,
  "view": {"fill": "#e5e5e5", "stroke": null},
  "layer": [
   {"data": {"values": [{}]}, "mark": {"type": "rule", "color": "#333333", "strokeWidth": 1.4}, "encoding": {"y": {"datum": 0, "type": "quantitative"}}},
   {"data": {"values": [{}]}, "mark": {"type": "rule", "color": "#333333", "strokeWidth": 1.6}, "encoding": {"x": {"datum": 0, "type": "quantitative"}}},
   {"data": {"name": "fStep"}, "mark": {"type": "line", "color": "#555555", "strokeWidth": 2.2},
    "encoding": {
     "x": {"field": "m", "type": "quantitative", "scale": {"domain": [-0.548, 1.053], "nice": false, "zero": false}, "axis": {"values": [-0.5, -0.25, 0, 0.25, 0.5, 0.75, 1.0], "tickCount": 30, "format": ".2f", "title": "Correlation m", "labelOverlap": false}},
     "y": {"field": "a", "type": "quantitative", "scale": {"domain": [-2.069, 1.069], "nice": false, "zero": false}, "axis": {"values": [-2, -1.5, -1, -0.5, 0, 0.5, 1.0], "tickCount": 30, "format": ".1f", "title": "Coefficient α⁻", "labelOverlap": false}}
    }},
   {"data": {"name": "fCurves"}, "transform": [{"fold": ["p3", "p5", "p7"], "as": ["P", "a"]}, {"filter": "isValid(datum.a)"}],
    "mark": {"type": "line", "interpolate": "monotone", "strokeWidth": 1.6, "clip": true},
    "encoding": {"x": {"field": "m", "type": "quantitative"}, "y": {"field": "a", "type": "quantitative"},
     "color": {"field": "P", "type": "nominal", "scale": {"domain": ["p3", "p5", "p7"], "range": ["#7300e6", "#b32000", "#e8940c"]}, "legend": null}}},
   {"data": {"values": [{}]}, "mark": {"type": "text", "text": "P = 3", "fontStyle": "italic", "fontSize": 17.5, "align": "right", "baseline": "alphabetic", "color": "#7300e6"}, "encoding": {"x": {"datum": 0.961}, "y": {"datum": 0.623}}},
   {"data": {"values": [{}]}, "mark": {"type": "text", "text": "P = 5", "fontStyle": "italic", "fontSize": 17.5, "align": "right", "baseline": "alphabetic", "color": "#b32000"}, "encoding": {"x": {"datum": 0.961}, "y": {"datum": 0.246}}},
   {"data": {"values": [{}]}, "mark": {"type": "text", "text": "P = 7", "fontStyle": "italic", "fontSize": 17.5, "align": "right", "baseline": "alphabetic", "color": "#e8940c"}, "encoding": {"x": {"datum": 0.961}, "y": {"datum": -0.149}}},
   {"data": {"values": [{}]}, "mark": {"type": "text", "text": "f", "fontWeight": "bold", "fontSize": 23, "align": "left", "baseline": "alphabetic", "color": "#000000"}, "encoding": {"x": {"datum": -0.8955}, "y": {"datum": 0.966}}}
  ]
 },
 {"width": 59, "height": 1, "data": {"values": [{}]}, "mark": {"type": "point", "opacity": 0}, "encoding": {}},
 {
  "width": 243, "height": 182,
  "view": {"fill": "#e5e5e5", "stroke": null},
  "layer": [
   {"data": {"values": [{}]}, "mark": {"type": "rule", "color": "#000000", "strokeWidth": 1}, "encoding": {"x": {"datum": 0, "type": "quantitative"}}},
   {"data": {"name": "g"}, "transform": [{"filter": "datum.s != 'base'"}], "mark": {"type": "area", "opacity": 0.3},
    "encoding": {
     "x": {"field": "x", "type": "quantitative", "scale": {"domain": [-0.1427, 0.2949], "nice": false, "zero": false}, "axis": {"values": [-0.1, 0, 0.1, 0.2], "tickCount": 30, "format": ".1f", "title": "Average correlation m", "labelOverlap": false}},
     "y": {"field": "lo", "type": "quantitative", "scale": {"domain": [0.459, 1.836], "nice": false, "zero": false}, "axis": {"values": [0.6, 0.8, 1.0, 1.2, 1.4, 1.6, 1.8], "tickCount": 30, "format": ".1f", "title": "Relative error", "labelOverlap": false}},
     "y2": {"field": "hi"},
     "color": {"field": "s", "type": "nominal", "scale": {"domain": ["min", "max", "base"], "range": ["#0000ff", "#ff0000", "#000000"]}, "legend": null}
    }},
   {"data": {"name": "g"}, "mark": {"type": "line", "strokeWidth": 1.2},
    "encoding": {"x": {"field": "x", "type": "quantitative"}, "y": {"field": "y", "type": "quantitative"}, "color": {"field": "s", "type": "nominal", "legend": null}}},
   {"data": {"name": "g"}, "mark": {"type": "point", "filled": true, "size": 32, "opacity": 1},
    "encoding": {"x": {"field": "x", "type": "quantitative"}, "y": {"field": "y", "type": "quantitative"}, "color": {"field": "s", "type": "nominal", "legend": null}}},
   {"data": {"values": [{}]}, "mark": {"type": "text", "text": "Min path", "fontSize": 16, "align": "left", "baseline": "alphabetic", "color": "#0000ff"}, "encoding": {"x": {"datum": -0.13}, "y": {"datum": 1.563}}},
   {"data": {"values": [{}]}, "mark": {"type": "text", "text": "Max path", "fontSize": 16, "align": "left", "baseline": "alphabetic", "color": "#ff0000"}, "encoding": {"x": {"datum": -0.13}, "y": {"datum": 0.845}}},
   {"data": {"values": [{}]}, "mark": {"type": "text", "text": "g", "fontWeight": "bold", "fontSize": 23, "align": "left", "baseline": "alphabetic", "color": "#000000"}, "encoding": {"x": {"datum": -0.2255}, "y": {"datum": 1.828}}}
  ]
 }
]
}
]
}
